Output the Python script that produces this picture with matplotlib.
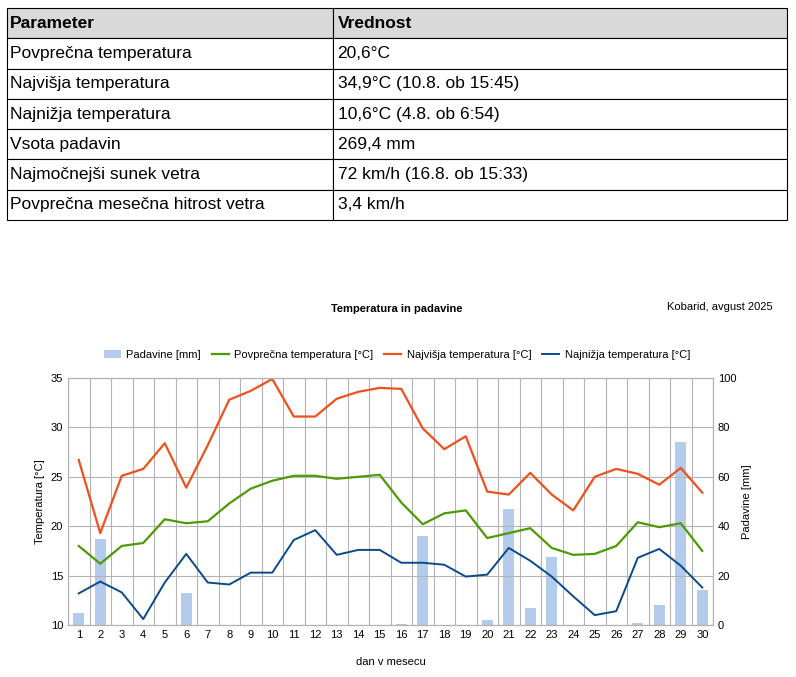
import matplotlib
matplotlib.use('Agg')
import matplotlib.pyplot as plt
import numpy as np

plt.rcParams['font.family'] = ['Liberation Sans', 'DejaVu Sans']

table_header = ['Parameter', 'Vrednost']
table_rows = [
    ['Povprečna temperatura', '20,6°C'],
    ['Najvišja temperatura', '34,9°C (10.8. ob 15:45)'],
    ['Najnižja temperatura', '10,6°C (4.8. ob 6:54)'],
    ['Vsota padavin', '269,4 mm'],
    ['Najmočnejši sunek vetra', '72 km/h (16.8. ob 15:33)'],
    ['Povprečna mesečna hitrost vetra', '3,4 km/h'],
]

days = list(range(1, 31))
t_max = [26.7, 19.3, 25.1, 25.8, 28.4, 23.9, 28.2, 32.8, 33.7, 34.9, 31.1, 31.1, 32.9, 33.6, 34.0,
         33.9, 29.9, 27.8, 29.1, 23.5, 23.2, 25.4, 23.2, 21.6, 25.0, 25.8, 25.3, 24.2, 25.9, 23.4]
t_avg = [18.0, 16.2, 18.0, 18.3, 20.7, 20.3, 20.5, 22.3, 23.8, 24.6, 25.1, 25.1, 24.8, 25.0, 25.2,
         22.4, 20.2, 21.3, 21.6, 18.8, 19.3, 19.8, 17.8, 17.1, 17.2, 18.0, 20.4, 19.9, 20.3, 17.5]
t_min = [13.2, 14.4, 13.3, 10.6, 14.3, 17.2, 14.3, 14.1, 15.3, 15.3, 18.6, 19.6, 17.1, 17.6, 17.6,
         16.3, 16.3, 16.1, 14.9, 15.1, 17.8, 16.5, 14.9, 12.9, 11.0, 11.4, 16.8, 17.7, 16.0, 13.8]
rain = [4.8, 35, 0, 0, 0, 13, 0, 0, 0, 0, 0, 0, 0, 0, 0,
        0.5, 36, 0, 0, 2, 47, 7, 27.5, 0, 0, 0, 1, 8, 74, 14]

W, H = 796, 677
fig = plt.figure(figsize=(W / 100, H / 100), dpi=100)

# table
tax = fig.add_axes([7 / W, 1 - 220 / H, 780 / W, 212 / H])
tax.axis('off')
tbl = tax.table(cellText=table_rows, colLabels=table_header, bbox=[0, 0, 1, 1],
                colWidths=[326 / 780, 454 / 780], cellLoc='left', colLoc='left', loc='upper left')
tbl.auto_set_font_size(False)
for (r, c), cell in tbl.get_celld().items():
    cell.set_edgecolor('black')
    cell.set_linewidth(0.8)
    cell.PAD = 0.01
    cell.get_text().set_fontsize(12.5)
    if r == 0:
        cell.set_facecolor('#d9d9d9')
        cell.get_text().set_fontweight('bold')

# chart
ax = fig.add_axes([68 / W, 1 - 625 / H, 645 / W, 247 / H])
ax2 = ax.twinx()
ax.set_zorder(ax2.get_zorder() + 1)
ax.patch.set_visible(False)

x = np.array(days)
ax2.bar(x, rain, width=0.5, color='#b4cbec', label='Padavine [mm]')
ax2.set_ylim(0, 100)
ax2.set_yticks(range(0, 101, 20))
ax.plot(x, t_avg, color='#4e9a06', lw=1.6, label='Povprečna temperatura [°C]')
ax.plot(x, t_max, color='#f0501e', lw=1.6, label='Najvišja temperatura [°C]')
ax.plot(x, t_min, color='#0b4a8a', lw=1.4, label='Najnižja temperatura [°C]')
ax.set_ylim(10, 35)
ax.set_xlim(0.5, 30.5)
ax.set_xticks(days)
ax.set_yticks(range(10, 36, 5))
for v in np.arange(0.5, 31, 1):
    ax.axvline(v, color='#b3b3b3', lw=0.8, zorder=0)
for v in range(10, 36, 5):
    ax.axhline(v, color='#b3b3b3', lw=0.8, zorder=0)
for a in (ax, ax2):
    a.tick_params(labelsize=8, length=0)
    for s in a.spines.values():
        s.set_color('#b3b3b3')
ax.set_ylabel('Temperatura [°C]', fontsize=8)
ax2.set_ylabel('Padavine [mm]', fontsize=8)
ax.set_xlabel('dan v mesecu', fontsize=8, labelpad=12)

fig.text(397 / W, 1 - 309 / H, 'Temperatura in padavine', fontsize=8, fontweight='bold',
         ha='center', va='center')
fig.text(773 / W, 1 - 307 / H, 'Kobarid, avgust 2025', fontsize=8, ha='right', va='center')

h1, l1 = ax2.get_legend_handles_labels()
h2, l2 = ax.get_legend_handles_labels()
fig.legend(h1 + h2, l1 + l2, loc='center', bbox_to_anchor=(397 / W, 1 - 355 / H), ncol=4,
           fontsize=8, frameon=False, handlelength=1.5, handletextpad=0.5, columnspacing=1.0)

fig.savefig('out.png', dpi=100)
